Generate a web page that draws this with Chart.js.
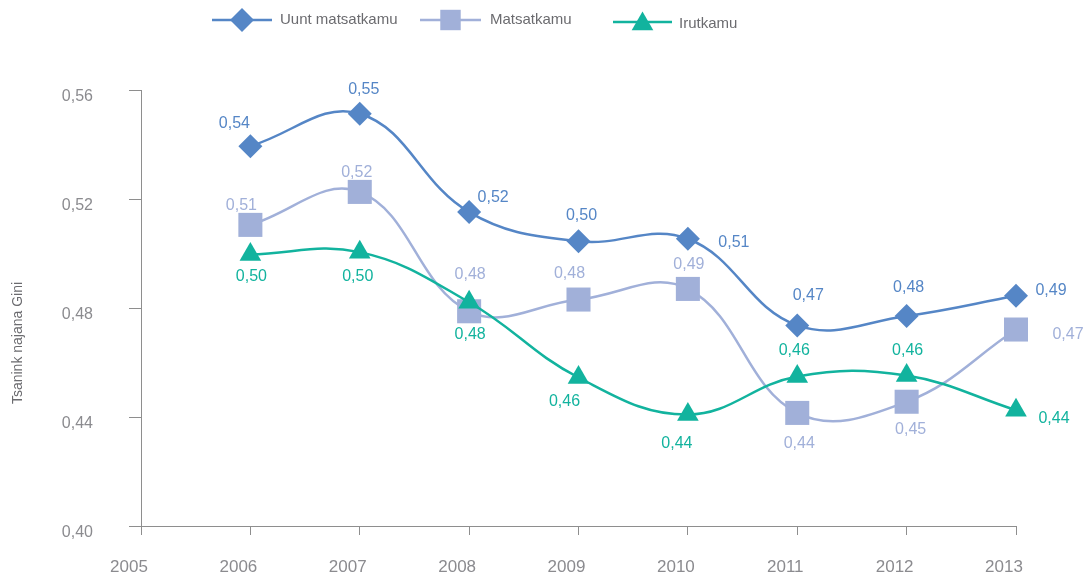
<!DOCTYPE html>
<html><head><meta charset="utf-8">
<script src="https://cdn.jsdelivr.net/npm/chart.js@4.4.0/dist/chart.umd.min.js"></script>
<style>html,body{margin:0;padding:0;background:#fff}#wrap{width:1087px;height:576px}</style>
</head><body><div id="wrap"><canvas id="c" width="1087" height="576"></canvas></div>
<script>
// ---- data ----
const years = [2006, 2007, 2008, 2009, 2010, 2011, 2012, 2013];
const xTickYears = [2005, 2006, 2007, 2008, 2009, 2010, 2011, 2012, 2013];
const yTicks = [0.40, 0.44, 0.48, 0.52, 0.56];
const seriesNames = ['Uunt matsatkamu', 'Matsatkamu', 'Irutkamu'];
const uuntValues = [0.5394, 0.5513, 0.5152, 0.5045, 0.5054, 0.4736, 0.4771, 0.4845];
const matsValues = [0.5105, 0.5226, 0.4788, 0.4831, 0.4870, 0.4415, 0.4456, 0.4721];
const irutValues = [0.4996, 0.5005, 0.4821, 0.4545, 0.4409, 0.4549, 0.4552, 0.4425];
const uuntLabels = ['0,54', '0,55', '0,52', '0,50', '0,51', '0,47', '0,48', '0,49'];
const matsLabels = ['0,51', '0,52', '0,48', '0,48', '0,49', '0,44', '0,45', '0,47'];
const irutLabels = ['0,50', '0,50', '0,48', '0,46', '0,44', '0,46', '0,46', '0,44'];
const yTitle = 'Tsanink najana Gini';

// ---- styling / placement ----
const COLORS = ['#5586c6', '#a1b0d9', '#12b39e'];
const GRAY = '#8b8b8f';
const AXIS = '#8e8e8e';
const FONT = "'Liberation Sans', Arial, sans-serif";
const labelOffsets = [
  [[-16,-23],[4,-24],[24,-14],[3,-26],[46,4],[11,-30],[2,-28],[35,-5]],
  [[-9,-19],[-3,-19],[1,-37],[-9,-26],[1,-24],[2,31],[4,28],[52,5]],
  [[1,22],[-2,24],[1,32],[-14,24],[-11,29],[-3,-26],[1,-25],[38,8]]
];
const valueLabels = [uuntLabels, matsLabels, irutLabels];
const pointStyles = ['rectRot', 'rect', 'triangle'];
const pointRadii = [12, 17, 12.5];

function pts(vals){ return years.map((y,i)=>({x:y, y:vals[i]})); }

function drawMarker(ctx, style, x, y, r, color){
  ctx.save(); ctx.fillStyle = color; ctx.beginPath();
  if (style === 'rectRot'){ ctx.moveTo(x-r,y); ctx.lineTo(x,y-r); ctx.lineTo(x+r,y); ctx.lineTo(x,y+r); }
  else if (style === 'rect'){ const s = r*Math.SQRT1_2; ctx.rect(x-s,y-s,2*s,2*s); }
  else { const w = Math.sin(2*Math.PI/3)*r; ctx.moveTo(x,y-r); ctx.lineTo(x+w,y+r/2); ctx.lineTo(x-w,y+r/2); }
  ctx.closePath(); ctx.fill(); ctx.restore();
}

const legendItems = [
  {x0:212, x1:272, y:20, tx:280, ty:20},
  {x0:420, x1:481, y:20, tx:490, ty:20},
  {x0:613, x1:672, y:22, tx:679, ty:24}
];

const extras = {
  id: 'extras',
  afterDatasetsDraw(chart){
    const ctx = chart.ctx;
    ctx.save();
    ctx.font = '16px ' + FONT;
    ctx.textAlign = 'center'; ctx.textBaseline = 'middle';
    chart.data.datasets.forEach((ds, di) => {
      const meta = chart.getDatasetMeta(di);
      meta.data.forEach((p, i) => {
        const o = labelOffsets[di][i];
        ctx.fillStyle = COLORS[di];
        ctx.fillText(valueLabels[di][i], p.x + o[0], p.y + o[1]);
      });
    });
    // legend
    legendItems.forEach((it, i) => {
      ctx.strokeStyle = COLORS[i]; ctx.lineWidth = 2.5;
      ctx.beginPath(); ctx.moveTo(it.x0, it.y); ctx.lineTo(it.x1, it.y); ctx.stroke();
      drawMarker(ctx, pointStyles[i], (it.x0+it.x1)/2, it.y + (i===2?2:0), pointRadii[i] * (i===1?0.85:1), COLORS[i]);
      ctx.fillStyle = '#6b6b6f'; ctx.textAlign = 'left'; ctx.font = '15px ' + FONT;
      ctx.fillText(seriesNames[i], it.tx, it.ty);
    });
    // y axis title
    ctx.save();
    ctx.translate(18, 343); ctx.rotate(-Math.PI/2);
    ctx.textAlign = 'center'; ctx.fillStyle = '#6b6b6f'; ctx.font = '14px ' + FONT;
    ctx.fillText(yTitle, 0, 0);
    ctx.restore();
    ctx.restore();
  }
};

const datasets = [uuntValues, matsValues, irutValues].map((vals, i) => ({
  label: seriesNames[i],
  data: pts(vals),
  borderColor: COLORS[i],
  backgroundColor: COLORS[i],
  borderWidth: 2.5,
  pointStyle: pointStyles[i],
  pointRadius: pointRadii[i],
  pointHoverRadius: pointRadii[i],
  pointBorderWidth: 0,
  pointBackgroundColor: COLORS[i],
  tension: 0.4,
  clip: false,
  order: [1, 2, 0][i]
}));

new Chart(document.getElementById('c'), {
  type: 'line',
  data: { datasets },
  options: {
    responsive: false,
    animation: false,
    events: [],
    layout: { padding: { top: 90, right: 71, left: 0, bottom: 0 } },
    plugins: { legend: { display: false }, tooltip: { enabled: false } },
    scales: {
      x: {
        type: 'linear', min: 2005, max: 2013,
        afterBuildTicks: s => { s.ticks = xTickYears.map(v => ({ value: v })); },
        afterFit: s => { s.height = 50; },
        border: { display: true, color: AXIS, width: 1 },
        grid: { drawOnChartArea: false, drawTicks: true, tickLength: 9, color: AXIS },
        ticks: { color: GRAY, font: { family: FONT, size: 17 }, padding: 22, labelOffset: -12, maxRotation: 0, callback: v => String(v) }
      },
      y: {
        min: 0.40, max: 0.56,
        afterBuildTicks: s => { s.ticks = yTicks.map(v => ({ value: v })); },
        afterFit: s => { s.width = 141; },
        border: { display: true, color: AXIS, width: 1 },
        grid: { drawOnChartArea: false, drawTicks: true, tickLength: 12, color: AXIS },
        ticks: { color: GRAY, font: { family: FONT, size: 16 }, padding: 36, labelOffset: 7,
                 callback: v => v.toFixed(2).replace('.', ',') }
      }
    }
  },
  plugins: [extras]
});
</script>
</body></html>
